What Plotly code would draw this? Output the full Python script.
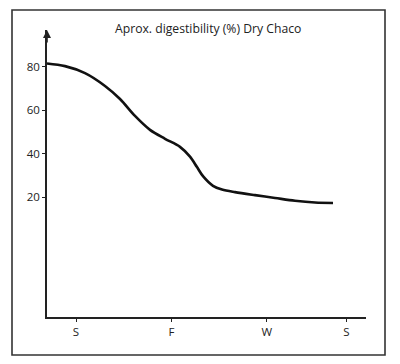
import plotly.graph_objects as go

# Data (x in months, S=1, F=4, W=7, S=9.5)
month = [0.088, 0.654, 1.283, 1.912, 2.384, 2.855, 3.327, 3.799, 4.270, 4.585,
         4.805, 5.000, 5.308, 5.591, 6.000, 6.629, 7.258, 7.887, 8.516, 9.082]
digestibility = [81.5, 80.3, 77.1, 71.2, 65.2, 57.4, 51.0, 46.9, 43.2, 38.7,
                 33.9, 29.6, 25.3, 23.6, 22.4, 21.0, 19.7, 18.4, 17.6, 17.4]
season_ticks = [1, 4, 7, 9.5]
season_labels = ["S", "F", "W", "S"]
y_ticks = [20, 40, 60, 80]
title = "Aprox. digestibility (%) Dry Chaco"

FONT = "Open Sans"

# page body has an 8px margin, so figure coordinates are page coordinates minus 8
L, R, T, B = 39, 358, 22, 309
PW, PH = R - L, B - T


def px(xf):
    return (xf - L) / PW


def py(yf):
    return (B - yf) / PH


fig = go.Figure()
fig.add_trace(go.Scatter(
    x=month, y=digestibility, mode="lines",
    line=dict(color="#111111", width=2.6, shape="spline", smoothing=0.9),
    hoverinfo="skip", showlegend=False,
))

fig.update_layout(
    width=400, height=364,
    margin=dict(l=L, r=400 - R, t=T, b=364 - B),
    paper_bgcolor="white", plot_bgcolor="white",
    font=dict(family=FONT, size=11, color="#222222"),
    xaxis=dict(
        range=[0.088, 10.12], tickvals=season_ticks, ticktext=season_labels,
        showgrid=False, zeroline=False, showline=True, linecolor="#222222", linewidth=1.6,
        ticks="outside", ticklen=3, tickwidth=1, tickcolor="#222222",
        tickfont=dict(family=FONT, size=11.5, color="#222222"), fixedrange=True,
    ),
    yaxis=dict(
        range=[-35, 96.9], tickvals=y_ticks,
        showgrid=False, zeroline=False, showline=True, linecolor="#222222", linewidth=1.6,
        ticks="outside", ticklen=3, tickwidth=1, tickcolor="#222222",
        tickfont=dict(family=FONT, size=11.5, color="#222222"), fixedrange=True,
    ),
    shapes=[dict(
        type="rect", xref="paper", yref="paper",
        x0=px(4), x1=px(377), y0=py(347), y1=py(2),
        line=dict(color="#333333", width=1.6), fillcolor="rgba(0,0,0,0)", layer="below",
    )],
    annotations=[
        dict(text=title, xref="paper", yref="paper", x=px(200), y=py(20),
             showarrow=False, xanchor="center", yanchor="middle",
             font=dict(family=FONT, size=12.2, color="#222222")),
        dict(text="", xref="paper", yref="paper", x=0, y=1.0, ax=0, ay=14,
             showarrow=True, arrowhead=2, arrowsize=1, arrowwidth=1.6, arrowcolor="#222222"),
    ],
)

fig.write_html("out.html")
